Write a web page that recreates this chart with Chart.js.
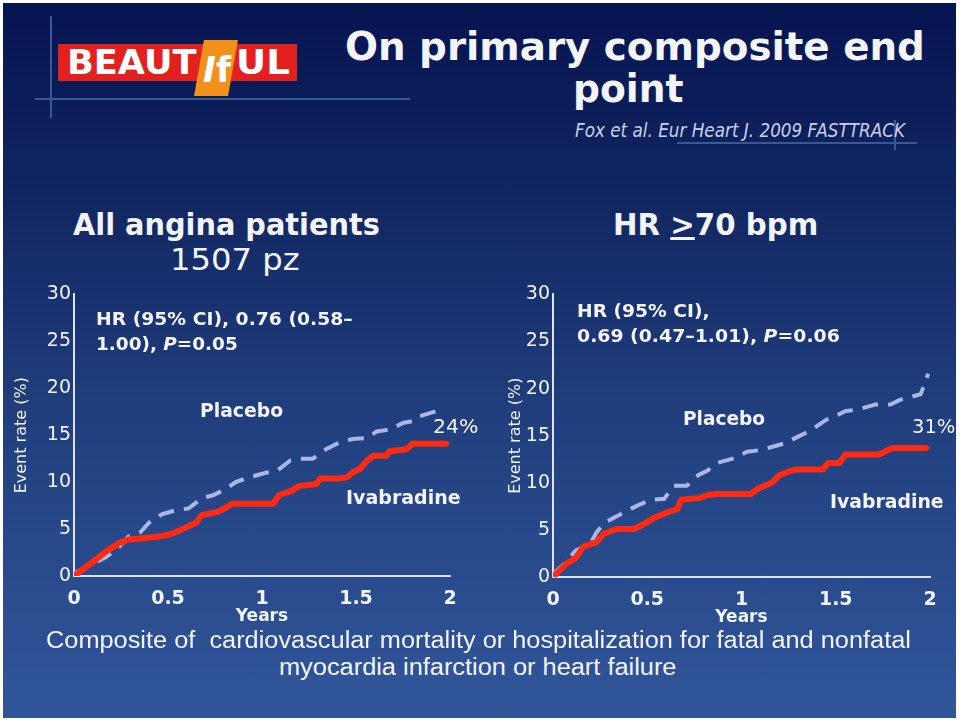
<!DOCTYPE html>
<html>
<head>
<meta charset="utf-8">
<script src="https://cdn.jsdelivr.net/npm/chart.js@4.4.1/dist/chart.umd.min.js"></script>
<style>
html, body { margin: 0; padding: 0; background: #fff; width: 960px; height: 724px; overflow: hidden; }
#slide { position: absolute; left: 3px; top: 3px; width: 953px; height: 715px;
  background: linear-gradient(to bottom, #061450 0%, #112762 28%, #213f7e 58%, #30569a 100%); }
.t { position: absolute; white-space: pre; line-height: 1; color: #f2f4fa;
  font-family: "DejaVu Sans", Verdana, sans-serif; transform-origin: 0 0; }
.ln { position: absolute; background: #3a5893; }
.box { position: absolute; }
#logo { position: absolute; left: 58px; top: 44px; width: 239px; height: 37px; background: #e3201d; }
#ifbox { position: absolute; left: 199px; top: 40px; width: 34px; height: 56px; background: #f39019;
  transform: skewX(-10deg); }
</style>
</head>
<body>
<div id="slide"></div>
<div class="ln" style="left:50px;top:16px;width:2px;height:102px"></div>
<div class="ln" style="left:35px;top:98px;width:375px;height:2px"></div>
<div class="ln" style="left:677px;top:142px;width:240px;height:2px"></div>
<div class="ln" style="left:894px;top:120px;width:2px;height:30px"></div>
<div id="logo"></div>
<div id="ifbox"></div>
<div class="box" style="left:0;top:280px;width:480px;height:360px"><canvas id="leftChart"></canvas></div>
<div class="box" style="left:480px;top:280px;width:480px;height:360px"><canvas id="rightChart"></canvas></div>
<script>
// 축 눈금
const xTickValues = [0, 0.5, 1, 1.5, 2];
const xTickLabels = ['0', '0.5', '1', '1.5', '2'];
const yTickValues = [0, 5, 10, 15, 20, 25, 30];
const yTickLabels = ['0', '5', '10', '15', '20', '25', '30'];

// 전체 협심증 환자 (1507 pz)
const allPlaceboYears = [0, 0.08, 0.17, 0.24, 0.29, 0.35, 0.40, 0.47, 0.54, 0.61, 0.68, 0.74, 0.81, 0.86, 0.93, 1.02, 1.08, 1.15, 1.20, 1.27, 1.34, 1.41, 1.48, 1.56, 1.61, 1.68, 1.75, 1.80, 1.82, 1.95];
const allPlaceboRate  = [0.3, 1.1, 2.0, 3.1, 4.2, 4.6, 5.7, 6.6, 7.0, 7.2, 8.3, 8.6, 9.3, 10.0, 10.5, 11.0, 11.2, 12.3, 12.5, 12.5, 13.5, 14.2, 14.6, 14.7, 15.4, 15.6, 16.3, 16.5, 16.9, 17.7];
const allIvabYears = [0, 0.08, 0.17, 0.24, 0.29, 0.35, 0.45, 0.52, 0.60, 0.65, 0.68, 0.76, 0.81, 0.84, 1.06, 1.09, 1.16, 1.20, 1.29, 1.31, 1.41, 1.45, 1.48, 1.52, 1.56, 1.59, 1.66, 1.68, 1.77, 1.80, 1.98];
const allIvabRate  = [0, 1.2, 2.6, 3.5, 3.9, 4.0, 4.2, 4.5, 5.2, 5.7, 6.5, 6.8, 7.3, 7.7, 7.7, 8.6, 9.1, 9.6, 9.8, 10.4, 10.4, 10.5, 11.0, 11.4, 12.3, 12.8, 12.8, 13.3, 13.5, 14.1, 14.1];

// HR >70 bpm
const hrPlaceboYears = [0, 0.06, 0.12, 0.20, 0.23, 0.27, 0.37, 0.45, 0.52, 0.59, 0.64, 0.71, 0.77, 0.82, 0.87, 0.96, 1.03, 1.11, 1.16, 1.23, 1.30, 1.37, 1.45, 1.48, 1.55, 1.62, 1.71, 1.79, 1.84, 1.95, 1.97, 1.99];
const hrPlaceboRate  = [0.3, 1.4, 2.8, 3.6, 4.7, 5.7, 6.8, 7.6, 8.2, 8.3, 9.7, 9.7, 10.8, 11.3, 12.1, 12.6, 13.3, 13.5, 13.8, 14.2, 14.9, 15.6, 16.7, 16.9, 17.6, 17.8, 18.3, 18.3, 18.8, 19.4, 20.4, 21.6];
const hrIvabYears = [0, 0.07, 0.12, 0.16, 0.20, 0.23, 0.27, 0.34, 0.43, 0.48, 0.53, 0.61, 0.66, 0.68, 0.78, 0.82, 0.87, 1.05, 1.09, 1.16, 1.20, 1.25, 1.29, 1.43, 1.46, 1.52, 1.55, 1.73, 1.80, 1.98];
const hrIvabRate  = [0, 1.4, 2.0, 3.2, 3.5, 3.7, 4.6, 5.1, 5.1, 5.6, 6.2, 6.9, 7.2, 8.2, 8.4, 8.7, 8.8, 8.8, 9.4, 10.0, 10.8, 11.2, 11.4, 11.4, 12.1, 12.1, 13.0, 13.0, 13.7, 13.7];

const FONT = '"DejaVu Sans", Verdana, sans-serif';
const TXT = '#f0f3fa';

// 텍스트 배치 (x, 기준선, 크기, 목표 폭)
function label(html, x, base, size, opts = {}) {
    const d = document.createElement('div');
    d.className = 't';
    d.innerHTML = html;
    d.style.fontSize = size + 'px';
    if (opts.bold) d.style.fontWeight = 'bold';
    if (opts.italic) d.style.fontStyle = 'italic';
    if (opts.color) d.style.color = opts.color;
    if (opts.family) d.style.fontFamily = opts.family;
    d.style.top = (base - 0.846 * size) + 'px';
    document.body.appendChild(d);
    const w = d.offsetWidth;
    const target = opts.width || w;
    const sx = target / w;
    d.style.transform = 'scaleX(' + sx + ')';
    d.style.left = (opts.center ? x - target / 2 : x) + 'px';
    return d;
}

// 로고
label('BEAUT', 67, 74, 33, { bold: true, width: 130, color: '#fff' });
label('<i>I</i>f', 203, 82, 36, { bold: true, width: 28, color: '#fff' });
label('UL', 236, 74, 33, { bold: true, width: 54, color: '#fff' });

// 제목
label('On primary composite end', 635, 60, 39, { bold: true, center: true, width: 580 });
label('point', 628, 102, 39, { bold: true, center: true, width: 111 });
label('Fox et al. Eur Heart J. 2009 FASTTRACK', 575, 137, 19, { italic: true, width: 330, color: '#c9d1ea' });

// 패널 제목
label('All angina patients', 73, 235, 30, { bold: true, width: 307 });
label('1507 pz', 235, 270, 30, { center: true, width: 130 });
label('HR <u>&gt;</u>70 bpm', 613, 235, 30, { bold: true, width: 205 });

// 왼쪽 주석
label('HR (95% CI), 0.76 (0.58–', 96, 325, 17, { bold: true, width: 257 });
label('1.00), <i>P</i>=0.05', 96, 350, 17, { bold: true, width: 142 });
label('Placebo', 200, 417, 19, { bold: true, width: 83 });
label('24%', 433, 433, 20, { width: 45 });
label('Ivabradine', 346, 504, 19, { bold: true, width: 115 });

// 오른쪽 주석
label('HR (95% CI),', 577, 317, 17, { bold: true, width: 133 });
label('0.69 (0.47–1.01), <i>P</i>=0.06', 577, 342, 17, { bold: true, width: 263 });
label('Placebo', 683, 425, 19, { bold: true, width: 82 });
label('31%', 912, 433, 20, { width: 43 });
label('Ivabradine', 830, 508, 19, { bold: true, width: 114 });

// 하단 설명
label('Composite of  cardiovascular mortality or hospitalization for fatal and nonfatal', 478, 648, 23,
    { center: true, width: 865, family: '"Liberation Sans Narrow", "Liberation Sans", sans-serif' });
label('myocardia infarction or heart failure', 478, 675, 23,
    { center: true, width: 398, family: '"Liberation Sans Narrow", "Liberation Sans", sans-serif' });

function pts(xs, ys) {
    return xs.map((x, i) => ({ x: x, y: ys[i] }));
}

function makeChart(id, plT, plR, ivT, ivR, padding, yWidth) {
    const ctx = document.getElementById(id).getContext('2d');
    return new Chart(ctx, {
        type: 'line',
        data: {
            datasets: [{
                label: 'Ivabradine',
                data: pts(ivT, ivR),
                borderColor: '#ff2a10',
                borderWidth: 6,
                borderCapStyle: 'round',
                borderJoinStyle: 'round'
            }, {
                label: 'Placebo',
                data: pts(plT, plR),
                borderColor: '#a9b6e6',
                borderWidth: 4,
                borderDash: [16, 10],
                borderCapStyle: 'butt'
            }]
        },
        options: {
            responsive: true,
            maintainAspectRatio: false,
            animation: false,
            layout: { padding: padding },
            elements: { point: { radius: 0 }, line: { tension: 0 } },
            plugins: { legend: { display: false }, tooltip: { enabled: false } },
            scales: {
                x: {
                    type: 'linear', min: 0, max: 2,
                    afterBuildTicks: s => { s.ticks = xTickValues.map(v => ({ value: v })); },
                    afterFit: s => { s.height = 55; },
                    ticks: {
                        callback: (v, i) => xTickLabels[i],
                        color: TXT, padding: 12, maxRotation: 0, autoSkip: false,
                        font: { family: FONT, size: 19, weight: 'bold' }
                    },
                    grid: { display: false, drawTicks: false },
                    border: { color: '#dde3f3', width: 2 },
                    title: {
                        display: true, text: 'Years', color: TXT,
                        font: { family: FONT, size: 17, weight: 'bold' },
                        padding: { top: 0, bottom: 4 }
                    }
                },
                y: {
                    min: 0, max: 30,
                    afterBuildTicks: s => { s.ticks = yTickValues.map(v => ({ value: v })); },
                    afterFit: s => { s.width = yWidth; },
                    ticks: {
                        callback: (v, i) => yTickLabels[i],
                        color: TXT, padding: 3,
                        font: { family: FONT, size: 19 }
                    },
                    grid: { display: false, drawTicks: false },
                    border: { color: '#dde3f3', width: 2 },
                    title: {
                        display: true, text: 'Event rate (%)', color: TXT,
                        font: { family: FONT, size: 16 },
                        padding: { top: 4, bottom: 4 }
                    }
                }
            }
        }
    });
}

makeChart('leftChart', allPlaceboYears, allPlaceboRate, allIvabYears, allIvabRate,
    { left: 8, right: 30, top: 13, bottom: 9 }, 66);
makeChart('rightChart', hrPlaceboYears, hrPlaceboRate, hrIvabYears, hrIvabRate,
    { left: 22, right: 30, top: 13, bottom: 8 }, 51);
</script>
</body>
</html>
